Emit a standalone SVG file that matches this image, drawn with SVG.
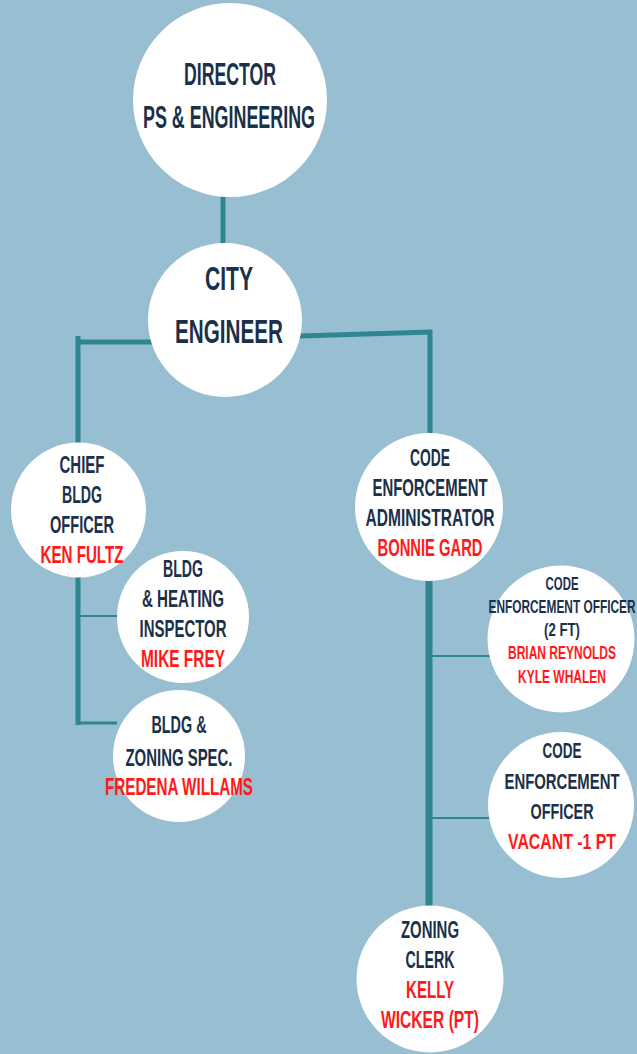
<svg xmlns="http://www.w3.org/2000/svg" width="637" height="1054" viewBox="0 0 637 1054">
<style>
.bg{fill:#98bed2}
.node{fill:#ffffff}
.c{stroke:#2e8790;fill:none;stroke-linecap:butt}
text{font-family:"Liberation Sans",Arial,sans-serif;font-weight:bold;text-anchor:middle}
.d{fill:#1b3049}
.r{fill:#ff1a1a}
</style>
<rect class="bg" x="0" y="0" width="637" height="1054"/>
<g id="connectors">
<line class="c" x1="223" y1="195" x2="223" y2="247" stroke-width="5"/>
<line class="c" x1="152" y1="342" x2="76" y2="342" stroke-width="5"/>
<line class="c" x1="78" y1="336" x2="78" y2="446" stroke-width="5"/>
<line class="c" x1="300" y1="336" x2="432" y2="332" stroke-width="5"/>
<line class="c" x1="430" y1="330" x2="430" y2="436" stroke-width="5"/>
<line class="c" x1="429" y1="578" x2="429" y2="907" stroke-width="7"/>
<line class="c" x1="432" y1="656" x2="490" y2="656" stroke-width="2"/>
<line class="c" x1="432" y1="818" x2="490" y2="818" stroke-width="2"/>
<line class="c" x1="78" y1="576" x2="78" y2="725" stroke-width="5"/>
<line class="c" x1="78" y1="616" x2="119" y2="616" stroke-width="2"/>
<line class="c" x1="76" y1="723" x2="117" y2="723" stroke-width="3"/>
</g>
<g id="director">
<circle class="node" cx="230" cy="100" r="97"/>
<text class="d" x="230" y="85" font-size="31" textLength="92" lengthAdjust="spacingAndGlyphs">DIRECTOR</text>
<text class="d" x="229" y="128" font-size="31" textLength="172" lengthAdjust="spacingAndGlyphs">PS &amp; ENGINEERING</text>
</g>
<g id="city-engineer">
<circle class="node" cx="225" cy="320" r="77"/>
<text class="d" x="229" y="290" font-size="34" textLength="48" lengthAdjust="spacingAndGlyphs">CITY</text>
<text class="d" x="229" y="343" font-size="34" textLength="108" lengthAdjust="spacingAndGlyphs">ENGINEER</text>
</g>
<g id="chief-bldg-officer">
<circle class="node" cx="78.5" cy="510" r="67.5"/>
<text class="d" x="82" y="473" font-size="24" textLength="45" lengthAdjust="spacingAndGlyphs">CHIEF</text>
<text class="d" x="82" y="503" font-size="24" textLength="40" lengthAdjust="spacingAndGlyphs">BLDG</text>
<text class="d" x="82" y="533" font-size="24" textLength="64" lengthAdjust="spacingAndGlyphs">OFFICER</text>
<text class="r" x="82" y="563" font-size="24" textLength="83" lengthAdjust="spacingAndGlyphs">KEN FULTZ</text>
</g>
<g id="bldg-heating-inspector">
<circle class="node" cx="183" cy="617" r="66"/>
<text class="d" x="183" y="577" font-size="24" textLength="40" lengthAdjust="spacingAndGlyphs">BLDG</text>
<text class="d" x="183" y="607" font-size="24" textLength="82" lengthAdjust="spacingAndGlyphs">&amp; HEATING</text>
<text class="d" x="183" y="637" font-size="24" textLength="87" lengthAdjust="spacingAndGlyphs">INSPECTOR</text>
<text class="r" x="183" y="667" font-size="24" textLength="84" lengthAdjust="spacingAndGlyphs">MIKE FREY</text>
</g>
<g id="bldg-zoning-spec">
<circle class="node" cx="179" cy="756" r="66"/>
<text class="d" x="179" y="733" font-size="23" textLength="55" lengthAdjust="spacingAndGlyphs">BLDG &amp;</text>
<text class="d" x="179" y="766" font-size="23" textLength="107" lengthAdjust="spacingAndGlyphs">ZONING SPEC.</text>
<text class="r" x="179" y="795" font-size="23" textLength="148" lengthAdjust="spacingAndGlyphs">FREDENA WILLAMS</text>
</g>
<g id="code-enforcement-administrator">
<circle class="node" cx="429" cy="507" r="74"/>
<text class="d" x="430" y="466" font-size="23" textLength="40" lengthAdjust="spacingAndGlyphs">CODE</text>
<text class="d" x="430" y="496" font-size="23" textLength="115" lengthAdjust="spacingAndGlyphs">ENFORCEMENT</text>
<text class="d" x="430" y="526" font-size="23" textLength="129" lengthAdjust="spacingAndGlyphs">ADMINISTRATOR</text>
<text class="r" x="430" y="556" font-size="23" textLength="105" lengthAdjust="spacingAndGlyphs">BONNIE GARD</text>
</g>
<g id="code-enforcement-officer-2ft">
<circle class="node" cx="561" cy="639" r="73.5"/>
<text class="d" x="562" y="590" font-size="18" textLength="33" lengthAdjust="spacingAndGlyphs">CODE</text>
<text class="d" x="562" y="613" font-size="18" textLength="147" lengthAdjust="spacingAndGlyphs">ENFORCEMENT OFFICER</text>
<text class="d" x="562" y="636" font-size="18" textLength="36" lengthAdjust="spacingAndGlyphs">(2 FT)</text>
<text class="r" x="562" y="659" font-size="18" textLength="108" lengthAdjust="spacingAndGlyphs">BRIAN REYNOLDS</text>
<text class="r" x="562" y="683" font-size="18" textLength="88" lengthAdjust="spacingAndGlyphs">KYLE WHALEN</text>
</g>
<g id="code-enforcement-officer-vacant">
<circle class="node" cx="561" cy="805" r="73"/>
<text class="d" x="562" y="758" font-size="22" textLength="39" lengthAdjust="spacingAndGlyphs">CODE</text>
<text class="d" x="562" y="789" font-size="22" textLength="115" lengthAdjust="spacingAndGlyphs">ENFORCEMENT</text>
<text class="d" x="562" y="819" font-size="22" textLength="63" lengthAdjust="spacingAndGlyphs">OFFICER</text>
<text class="r" x="562" y="849" font-size="22" textLength="108" lengthAdjust="spacingAndGlyphs">VACANT -1 PT</text>
</g>
<g id="zoning-clerk">
<circle class="node" cx="430" cy="979" r="73.5"/>
<text class="d" x="430" y="938" font-size="23" textLength="58" lengthAdjust="spacingAndGlyphs">ZONING</text>
<text class="d" x="430" y="968" font-size="23" textLength="49" lengthAdjust="spacingAndGlyphs">CLERK</text>
<text class="r" x="430" y="998" font-size="23" textLength="48" lengthAdjust="spacingAndGlyphs">KELLY</text>
<text class="r" x="430" y="1028" font-size="23" textLength="98" lengthAdjust="spacingAndGlyphs">WICKER (PT)</text>
</g>
</svg>
